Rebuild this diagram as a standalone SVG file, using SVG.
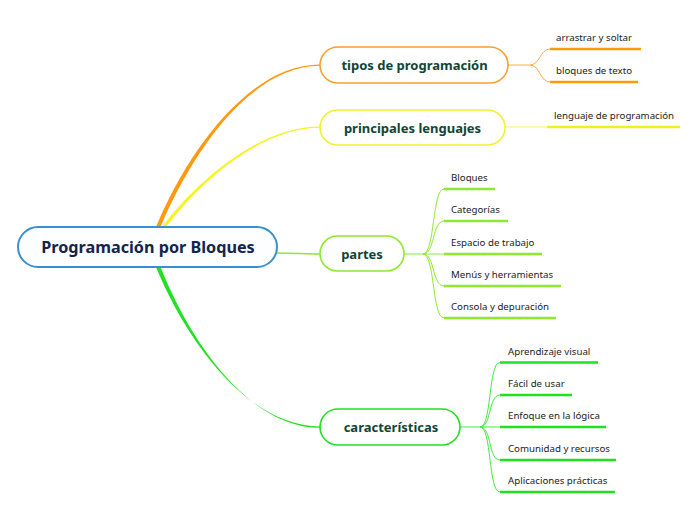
<svg xmlns="http://www.w3.org/2000/svg" width="696" height="520" viewBox="0 0 696 520">
<style>
.main{font-family:"Noto Sans","Open Sans",sans-serif;font-weight:bold;font-size:16.2px;fill:#14244a}
.topic{font-family:"Noto Sans","Open Sans",sans-serif;font-weight:bold;font-size:13px;fill:#0e4636}
.sub{font-family:"Noto Sans","Open Sans",sans-serif;font-size:9.7px;fill:#222}
.c{fill:none}
</style>
<rect width="696" height="520" fill="#ffffff"/>
<g id="connectors">
  <path d="M156,227 C188,150 250,64.5 320,64.5 L320,65.8 C251,65.8 192,152 160.5,227 Z" fill="#ff9a10"/>
  <path d="M162,227 C198,180 260,126.5 320,126.5 L320,127.8 C261,127.8 201,181 166,227 Z" fill="#f5f520"/>
  <path d="M277,253 C295,253 305,254 320,254" class="c" stroke="#8ee830" stroke-width="1.5"/>
  <path d="M156,267 C188,345 250,426.5 320,426.5 L320,427.8 C251,427.8 192,346 160.5,267 Z" fill="#22e022"/>
  <path d="M508,65 L530,65 C540,65 540,49 550,49 M530,65 C540,65 540,82 550,82" class="c" stroke="#ffae40" stroke-width="1"/>
  <path d="M550,49 L641,49 M550,82 L638,82" class="c" stroke="#ff9a00" stroke-width="2.5"/>
  <path d="M505,127 L547,127" class="c" stroke="#f0f070" stroke-width="1"/>
  <path d="M547,127 L680,127" class="c" stroke="#f0f020" stroke-width="2.5"/>
  <path d="M404,254 L423,254 M423,254 C435,254 432,189 444,189 M423,254 C435,254 432,221 444,221 M423,254 L444,254 M423,254 C435,254 432,286 444,286 M423,254 C435,254 432,318 444,318" class="c" stroke="#8ee830" stroke-width="1"/>
  <path d="M444,189 L495,189 M444,221 L508,221 M444,254 L542,254 M444,286 L561,286 M444,318 L556,318" class="c" stroke="#8ee830" stroke-width="2.5"/>
  <path d="M460,427 L480,427 M480,427 C492,427 488,362.5 500,362.5 M480,427 C492,427 488,395 500,395 M480,427 L500,427 M480,427 C492,427 488,460 500,460 M480,427 C492,427 488,492 500,492" class="c" stroke="#44e844" stroke-width="1"/>
  <path d="M500,362.5 L598,362.5 M500,395 L572,395 M500,427 L606,427 M500,460 L616,460 M500,492 L615,492" class="c" stroke="#22e022" stroke-width="2.5"/>
</g>
<g id="central">
  <rect x="18" y="227" width="259" height="40" rx="20" fill="#fdfeff" stroke="#3a8fd0" stroke-width="2"/>
  <text x="148" y="253" text-anchor="middle" class="main">Programación por Bloques</text>
</g>
<g id="tipos">
  <rect x="320" y="47" width="188" height="36" rx="18" fill="#fff" stroke="#f7a030" stroke-width="1.6"/>
  <text x="414.5" y="70" text-anchor="middle" class="topic">tipos de programación</text>
</g>
<g id="lenguajes">
  <rect x="320" y="110" width="185" height="35" rx="17.5" fill="#fff" stroke="#f2f230" stroke-width="1.6"/>
  <text x="412.5" y="132.5" text-anchor="middle" class="topic">principales lenguajes</text>
</g>
<g id="partes">
  <rect x="320" y="236" width="84" height="35" rx="17.5" fill="#fff" stroke="#8ee830" stroke-width="1.6"/>
  <text x="362" y="258.5" text-anchor="middle" class="topic">partes</text>
</g>
<g id="caracteristicas">
  <rect x="320" y="409" width="140" height="36" rx="18" fill="#fff" stroke="#22e022" stroke-width="1.6"/>
  <text x="391" y="432" text-anchor="middle" class="topic">características</text>
</g>
<g id="sub-tipos">
  <text x="556" y="41" class="sub">arrastrar y soltar</text>
  <text x="556" y="74" class="sub">bloques de texto</text>
</g>
<g id="sub-lenguajes">
  <text x="554" y="119" class="sub">lenguaje de programación</text>
</g>
<g id="sub-partes">
  <text x="451" y="181" class="sub">Bloques</text>
  <text x="451" y="213" class="sub">Categorías</text>
  <text x="451" y="246" class="sub">Espacio de trabajo</text>
  <text x="451" y="278" class="sub">Menús y herramientas</text>
  <text x="451" y="310" class="sub">Consola y depuración</text>
</g>
<g id="sub-caracteristicas">
  <text x="508" y="355" class="sub">Aprendizaje visual</text>
  <text x="508" y="387" class="sub">Fácil de usar</text>
  <text x="508" y="419" class="sub">Enfoque en la lógica</text>
  <text x="508" y="452" class="sub">Comunidad y recursos</text>
  <text x="508" y="484" class="sub">Aplicaciones prácticas</text>
</g>
</svg>
